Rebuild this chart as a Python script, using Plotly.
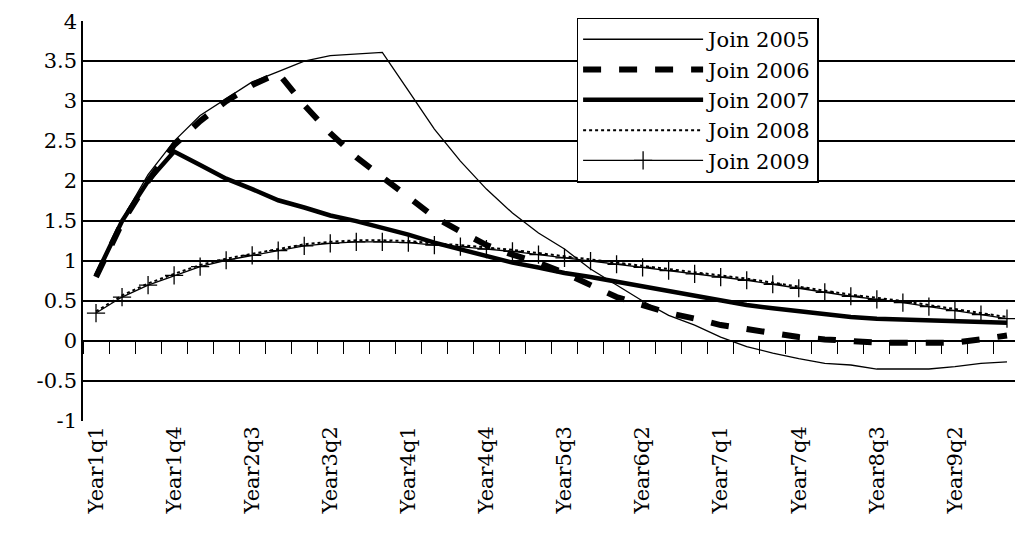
import plotly.graph_objects as go

quarters = [f"Year{y}q{q}" for y in range(1, 10) for q in range(1, 5)]

join_2005 = [0.82, 1.52, 2.08, 2.5, 2.82, 3.03, 3.24, 3.37, 3.5, 3.57, 3.59, 3.61,
             3.13, 2.65, 2.25, 1.9, 1.6, 1.35, 1.15, 0.9, 0.7, 0.5, 0.32, 0.2,
             0.05, -0.07, -0.15, -0.22, -0.28, -0.3, -0.35, -0.35, -0.35, -0.32, -0.28, -0.26]
join_2006 = [0.8, 1.48, 2.0, 2.45, 2.75, 3.0, 3.2, 3.35, 2.95, 2.6, 2.3, 2.05,
             1.8, 1.55, 1.37, 1.2, 1.08, 0.98, 0.85, 0.7, 0.55, 0.45, 0.35, 0.28,
             0.2, 0.15, 0.1, 0.05, 0.02, 0.0, -0.02, -0.02, -0.02, -0.02, 0.02, 0.07]
join_2007 = [0.82, 1.5, 2.0, 2.37, 2.2, 2.03, 1.9, 1.76, 1.67, 1.57, 1.5, 1.42,
             1.33, 1.23, 1.15, 1.06, 0.98, 0.92, 0.85, 0.8, 0.74, 0.68, 0.62, 0.56,
             0.5, 0.45, 0.41, 0.37, 0.33, 0.3, 0.28, 0.27, 0.26, 0.25, 0.24, 0.23]
join_2009 = [0.35, 0.55, 0.7, 0.82, 0.93, 1.01, 1.07, 1.13, 1.19, 1.22, 1.24, 1.24,
             1.23, 1.2, 1.18, 1.15, 1.12, 1.08, 1.04, 1.0, 0.96, 0.92, 0.88, 0.84,
             0.8, 0.76, 0.71, 0.66, 0.61, 0.56, 0.52, 0.48, 0.43, 0.38, 0.33, 0.28]
join_2008 = [v + 0.02 for v in join_2009]

label_ticks = quarters[::3]
y_ticks = [4, 3.5, 3, 2.5, 2, 1.5, 1, 0.5, 0, -0.5, -1]

serif = dict(family="DejaVu Serif", size=21, color="black")

fig = go.Figure()
fig.add_trace(go.Scatter(x=quarters, y=join_2005, name="Join 2005", mode="lines",
                         line=dict(color="black", width=1.3)))
fig.add_trace(go.Scatter(x=quarters, y=join_2006, name="Join 2006", mode="lines",
                         line=dict(color="black", width=6, dash="dash")))
fig.add_trace(go.Scatter(x=quarters, y=join_2007, name="Join 2007", mode="lines",
                         line=dict(color="black", width=4.5)))
fig.add_trace(go.Scatter(x=quarters, y=join_2008, name="Join 2008", mode="lines",
                         line=dict(color="black", width=2, dash="dot")))
fig.add_trace(go.Scatter(x=quarters, y=join_2009, name="Join 2009", mode="lines+markers",
                         line=dict(color="black", width=1.3),
                         marker=dict(symbol="cross-thin-open", size=13,
                                     line=dict(color="black", width=1.3))))
# invisible trace on the zero-crossing axis that carries the category ticks
fig.add_trace(go.Scatter(x=quarters, y=join_2009, xaxis="x2", mode="lines",
                         line=dict(width=0), showlegend=False, hoverinfo="skip"))

fig.update_layout(
    width=1015, height=542, autosize=False,
    margin=dict(l=75, r=3, t=13, b=129, autoexpand=False),
    plot_bgcolor="white", paper_bgcolor="white",
    font=serif,
    legend=dict(x=0.527, y=1.008, xanchor="left", yanchor="top",
                bordercolor="black", borderwidth=1.3, bgcolor="white",
                font=serif, tracegroupgap=0, itemwidth=120),
    xaxis=dict(type="category", categoryorder="array", categoryarray=quarters,
               tickvals=label_ticks, tickangle=-90, ticks="", showgrid=False,
               tickfont=serif, showline=False, range=[-0.5, 35.5]),
    xaxis2=dict(type="category", categoryorder="array", categoryarray=quarters,
                overlaying="x", anchor="free", position=0.2, side="bottom",
                showticklabels=False, ticks="outside", ticklen=12, tickwidth=1.3,
                tickcolor="black", tickson="boundaries", showline=True,
                linecolor="black", linewidth=1.5, showgrid=False, range=[-0.5, 35.5]),
    yaxis=dict(range=[-1, 4.002], tickvals=y_ticks, ticktext=[str(v) for v in y_ticks],
               tickfont=serif,
               showgrid=True, gridcolor="black", gridwidth=1.5, zeroline=False,
               showline=True, linecolor="black", linewidth=1.5, ticks=""),
)
fig.write_html("out.html")
